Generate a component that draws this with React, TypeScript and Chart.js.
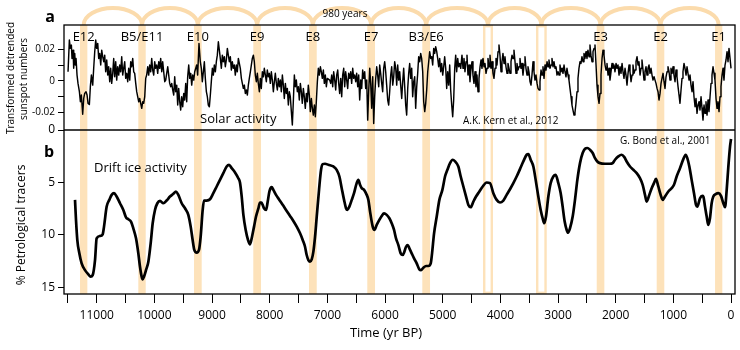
import { useEffect, useRef } from 'react';
import { Chart, registerables } from 'chart.js';

Chart.register(...registerables);

// ---------- Panel a: solar activity (transformed detrended sunspot numbers) ----------
const solarYears1 = [11498,11475,11458,11440,11429,11411,11400,11382,11371,11359,11342,11325,11301,11284,11267,11244,11226,11209,11186,11168,11151,11128,11111,11093,11070,11053,11035,11018,11001,10983,10966,10949,10931,10914,10897,10879,10862,10845,10827,10810,10793,10775,10758,10741,10723,10706,10689,10671,10654,10637,10619,10602,10585,10567,10550,10533,10515,10498,10481,10463,10446,10428,10411,10394,10376,10359,10342,10324,10307,10290,10272,10255,10238,10220,10203,10186,10168,10151,10134,10116,10099,10082,10064,10047,10030,10012,9995,9978,9960,9943,9925,9908,9891,9873,9856,9839,9821,9804,9787,9769,9752,9735,9717,9700,9683,9665,9648,9631,9613,9596,9579,9561,9544,9527,9509,9492,9475,9457,9440,9423,9405,9388,9370,9353,9336,9318,9301];
const solarValues1 = [0.0057,0.0259,0.0206,0.0227,0.0142,0.0195,0.0079,0.0174,0.0100,0.0142,0.0036,-0.0017,-0.0070,-0.0134,-0.0091,-0.0214,-0.0113,-0.0081,-0.0070,-0.0091,-0.0144,-0.0151,-0.0038,0.0036,-0.0028,0.0079,0.0185,0.0259,0.0206,0.0238,0.0142,0.0174,0.0100,0.0195,0.0153,0.0121,0.0163,0.0057,0.0132,0.0036,0.0089,-0.0006,0.0079,-0.0017,0.0047,0.0142,0.0025,0.0121,0.0004,0.0089,0.0036,0.0100,0.0057,0.0153,0.0036,0.0079,0.0121,0.0015,0.0047,-0.0006,0.0079,0.0004,0.0121,0.0089,0.0142,0.0057,0.0047,-0.0017,-0.0070,-0.0102,-0.0134,-0.0113,-0.0144,-0.0176,-0.0134,-0.0144,-0.0102,0.0015,0.0036,0.0089,0.0036,0.0100,0.0057,0.0142,0.0068,0.0036,0.0121,0.0079,0.0100,0.0047,0.0121,0.0079,0.0142,0.0057,0.0121,0.0057,-0.0006,0.0004,0.0047,0.0089,0.0036,-0.0017,-0.0038,-0.0017,-0.0059,-0.0091,0.0025,-0.0070,-0.0028,-0.0155,-0.0049,-0.0134,-0.0187,-0.0102,-0.0166,-0.0081,-0.0123,-0.0017,-0.0134,0.0025,0.0100,0.0015,0.0047,-0.0028,0.0036,0.0004,0.0057];

const solarYears2 = [9267,9250,9227,9204,9186,9169,9151,9134,9117,9099,9082,9065,9047,9030,9013,8995,8978,8961,8943,8926,8909,8891,8874,8857,8839,8822,8805,8787,8770,8753,8735,8718,8701,8683,8666,8649,8631,8614,8597,8579,8562,8544,8527,8510,8492,8475,8458,8440,8423,8406,8388,8371,8354,8336,8319,8302,8284,8267,8250,8232,8215,8198,8180,8163,8146,8128,8111,8094,8076,8059,8042,8024,8007,7990,7972,7955,7937,7920,7903,7885,7868,7851,7833,7816,7799,7781,7764,7747,7729,7712,7695,7677,7660,7643,7625,7608,7591,7573,7556,7539,7521,7504,7487,7469,7452,7435,7417,7400,7383,7365,7348,7331,7313,7296,7278,7261,7244,7226,7209,7192,7174,7157,7140,7122,7105,7088,7070,7053,7036,7018,7001];
const solarValues2 = [0.0100,0.0036,0.0238,0.0121,0.0079,-0.0006,0.0057,0.0121,0.0015,-0.0070,-0.0102,-0.0155,-0.0166,-0.0091,-0.0006,0.0079,0.0036,0.0100,0.0057,0.0121,0.0163,0.0248,0.0195,0.0142,0.0079,0.0163,0.0121,0.0153,0.0089,0.0132,0.0206,0.0163,0.0121,0.0153,0.0068,0.0121,0.0079,0.0100,0.0036,0.0100,0.0057,0.0142,0.0110,0.0079,0.0015,-0.0017,-0.0049,-0.0028,-0.0081,-0.0059,-0.0091,-0.0028,0.0015,0.0057,0.0100,0.0142,0.0163,0.0121,0.0036,-0.0006,0.0047,-0.0017,-0.0070,0.0015,-0.0049,0.0057,0.0025,0.0079,0.0036,-0.0006,0.0068,0.0025,0.0047,-0.0017,0.0057,0.0004,-0.0070,-0.0006,0.0047,-0.0017,-0.0059,0.0015,-0.0038,0.0004,-0.0070,0.0036,-0.0028,-0.0113,-0.0017,-0.0081,-0.0049,-0.0155,-0.0070,-0.0102,-0.0197,-0.0282,-0.0134,0.0036,-0.0038,0.0004,-0.0070,-0.0038,-0.0123,-0.0017,-0.0070,-0.0144,-0.0049,-0.0102,-0.0176,-0.0081,-0.0134,-0.0028,-0.0091,-0.0197,-0.0113,-0.0176,-0.0219,-0.0155,-0.0229,-0.0134,-0.0006,0.0079,0.0036,0.0089,0.0057,0.0015,0.0068,-0.0017,0.0036,-0.0038,0.0015];

const solarYears3 = [6960,6943,6925,6908,6891,6873,6856,6839,6821,6804,6787,6769,6752,6735,6717,6700,6683,6665,6648,6631,6613,6596,6579,6561,6544,6527,6509,6492,6474,6457,6440,6422,6405,6388,6370,6353,6336,6318,6301,6284,6266,6249,6232,6214,6197,6180,6162,6145,6128,6110,6093,6076,6058,6041,6024,6006,5989,5972,5954,5937,5920,5902,5885,5867,5850,5833,5815,5798,5781,5763,5746,5729,5711,5694,5677,5659,5642,5625,5607,5590,5573,5555,5538,5521,5503,5486,5469,5451,5434,5417,5399,5382,5365,5347,5330,5312,5295,5278,5260,5243,5226,5208,5191,5174,5156,5139,5122,5104,5087,5070,5052,5035,5018,5000,4983,4966,4948,4931,4914,4896,4879,4862,4844,4827,4810,4792,4775,4758,4740,4723,4706,4688];
const solarValues3 = [0.0004,-0.0017,0.0036,-0.0038,0.0057,0.0004,-0.0059,0.0036,0.0068,-0.0017,-0.0081,0.0015,-0.0102,0.0036,0.0079,-0.0038,0.0057,0.0004,-0.0049,0.0047,0.0015,0.0057,-0.0017,0.0079,0.0015,0.0036,-0.0006,0.0047,-0.0038,0.0036,-0.0123,0.0004,-0.0049,0.0068,0.0015,0.0057,-0.0049,0.0004,-0.0251,-0.0070,0.0079,-0.0017,-0.0176,0.0025,-0.0272,-0.0102,0.0015,0.0089,0.0036,-0.0038,0.0100,0.0047,-0.0017,-0.0070,0.0079,0.0121,0.0057,-0.0028,-0.0123,-0.0155,-0.0070,0.0036,0.0089,-0.0028,0.0025,0.0121,0.0079,-0.0028,0.0100,0.0004,0.0057,-0.0028,-0.0113,-0.0006,0.0079,-0.0038,-0.0155,-0.0219,-0.0049,0.0047,0.0110,0.0015,0.0079,-0.0102,-0.0006,0.0025,-0.0176,-0.0038,0.0047,0.0153,0.0121,0.0174,0.0142,0.0057,-0.0134,-0.0197,-0.0144,-0.0059,0.0057,0.0121,0.0185,0.0142,0.0153,0.0100,0.0206,0.0174,0.0217,0.0185,0.0142,0.0089,0.0142,0.0057,0.0110,0.0036,0.0089,0.0153,0.0079,-0.0049,0.0057,-0.0028,0.0100,-0.0059,-0.0155,-0.0229,-0.0123,0.0079,0.0163,0.0057,0.0142,0.0089,0.0110,0.0079];

const solarYears4 = [4666,4648,4631,4614,4596,4579,4562,4544,4527,4510,4492,4475,4458,4440,4423,4406,4388,4371,4353,4336,4319,4301,4284,4267,4249,4232,4215,4197,4180,4163,4145,4128,4111,4093,4076,4059,4041,4024,4007,3989,3972,3955,3937,3920,3903,3885,3868,3850,3833,3816,3798,3781,3764,3746,3729,3712,3694,3677,3660,3642,3625,3608,3590,3573,3556,3538,3521,3504,3486,3469,3452,3434,3417,3400,3382,3364,3347,3330,3313,3295,3278,3261,3243,3226,3209,3191,3174,3157,3139,3122,3105,3087,3070,3052,3035,3018,3000,2983,2966,2948,2931,2914,2896,2879,2862,2845,2827,2810,2793,2775,2758,2741,2723,2706,2689,2671,2654,2637,2619,2602,2585,2567,2550,2533,2515,2498,2481,2463,2446,2429,2411,2394,2376,2359];
const solarValues4 = [0.0163,0.0079,0.0142,0.0057,0.0121,0.0163,0.0036,0.0100,-0.0006,0.0079,0.0121,0.0036,-0.0017,0.0057,-0.0038,0.0036,-0.0070,0.0015,0.0089,0.0132,0.0079,0.0142,0.0089,0.0110,0.0047,0.0079,0.0142,0.0089,0.0163,0.0079,0.0121,0.0047,0.0015,0.0079,0.0142,0.0100,0.0185,0.0227,0.0163,0.0057,0.0121,0.0174,0.0110,0.0153,0.0089,0.0047,0.0110,0.0079,0.0047,0.0121,0.0163,0.0142,0.0195,0.0121,0.0047,0.0110,0.0068,0.0089,0.0142,0.0079,0.0110,0.0036,0.0100,0.0153,0.0079,0.0036,0.0089,0.0057,-0.0006,-0.0028,0.0036,0.0121,0.0057,0.0004,0.0036,-0.0017,-0.0049,-0.0059,-0.0006,0.0068,0.0036,0.0089,0.0015,0.0100,0.0068,0.0121,0.0089,0.0132,0.0079,0.0100,0.0142,0.0089,0.0121,0.0079,0.0089,0.0036,0.0057,0.0036,0.0100,0.0057,0.0079,0.0047,0.0100,0.0057,0.0025,0.0079,0.0036,0.0004,-0.0049,-0.0102,-0.0155,-0.0187,-0.0219,-0.0202,-0.0144,-0.0070,0.0015,0.0079,0.0121,0.0110,0.0153,0.0121,0.0174,0.0142,0.0185,0.0142,0.0195,0.0153,0.0227,0.0163,0.0121,0.0185,0.0206,0.0227];

const solarYears5 = [2341,2324,2307,2289,2272,2255,2237,2220,2203,2185,2168,2151,2133,2116,2099,2081,2064,2047,2029,2012,1994,1977,1960,1942,1925,1908,1890,1873,1856,1838,1821,1804,1786,1769,1752,1734,1717,1700,1682,1665,1648,1630,1613,1596,1578,1561,1544,1526,1509,1492,1474,1457,1440,1422,1405,1387,1370,1353,1335,1318,1301,1283,1266,1249,1231,1214,1197,1179,1162,1145,1127,1110,1093,1075,1058,1041,1023,1006,989,971,954,937,919,902,885,867,850,833,815,798,780,763,746,728,711,694,676,659,642,624,607,590,572,555,538,520,503,486,468,451,434,416,399,382,364,347,330,312,295,278,260,243,226,208,191,174,156,139,122,104,87,69,52,35,17,0];
const solarValues5 = [0.0100,-0.0028,-0.0102,-0.0144,-0.0081,0.0036,0.0142,0.0195,0.0163,0.0100,0.0068,0.0110,0.0036,0.0079,0.0004,0.0057,0.0110,0.0079,0.0100,0.0057,0.0110,0.0079,0.0100,0.0036,0.0089,0.0047,0.0110,0.0057,0.0015,0.0079,0.0036,-0.0028,0.0047,0.0100,0.0057,-0.0006,0.0036,0.0100,0.0047,0.0068,0.0121,0.0153,0.0100,0.0121,0.0036,0.0079,0.0132,0.0068,0.0004,0.0057,0.0089,0.0036,0.0079,0.0100,0.0047,0.0079,0.0036,0.0004,0.0025,0.0004,-0.0017,-0.0049,-0.0070,-0.0123,-0.0081,-0.0017,0.0015,0.0047,-0.0006,-0.0049,0.0025,0.0057,0.0089,0.0057,0.0004,0.0079,0.0047,0.0089,0.0036,-0.0006,0.0068,0.0025,-0.0038,-0.0091,-0.0144,-0.0059,0.0015,0.0057,0.0110,0.0079,0.0036,0.0089,0.0047,0.0004,0.0036,-0.0028,-0.0070,-0.0006,-0.0102,-0.0166,-0.0113,-0.0208,-0.0155,-0.0134,-0.0187,-0.0102,-0.0176,-0.0251,-0.0155,-0.0208,-0.0134,-0.0219,-0.0123,-0.0197,-0.0102,-0.0017,0.0036,0.0089,0.0047,0.0004,-0.0113,-0.0176,-0.0134,-0.0197,-0.0102,-0.0038,0.0036,0.0079,0.0004,0.0100,0.0132,0.0185,0.0121,0.0206,0.0142,0.0079];

// ---------- Panel b: drift ice activity (% petrological tracers) ----------
const driftYears1 = [11377,11360,11337,11302,11262,11204,11146,11106,11071,11030,11002,10944,10897,10874,10828,10782,10741,10701,10655,10597,10539,10493,10452,10406,10366,10319,10279,10250,10221,10204,10181,10146,10105,10065,10030,9990,9949,9903,9845,9788,9730,9672,9626,9585,9527,9470,9412,9371,9337,9308,9267,9227,9198,9163,9140,9094,9036,8978,8920,8863,8805,8747,8706,8660,8602,8545,8516];
const driftValues1 = [6.67,8.58,10.5,11.77,12.73,13.37,13.78,14.0,13.85,12.41,10.34,10.11,9.95,9.22,7.31,6.67,6.19,6.03,6.35,6.99,7.63,8.33,8.52,8.74,9.38,10.34,11.77,13.05,14.0,14.26,14.0,13.37,12.57,10.82,8.9,7.63,6.99,6.76,6.99,6.73,6.35,6.09,5.87,6.19,6.99,7.47,8.1,9.22,10.5,11.45,11.71,11.45,10.18,7.63,6.73,6.73,6.61,6.03,5.39,4.76,4.12,3.48,3.32,3.64,4.05,4.6,5.0];
const driftYears2 = [8486,8457,8417,8376,8342,8307,8272,8238,8197,8168,8145,8122,8099,8064,8035,8006,7966,7937,7891,7833,7763,7706,7648,7590,7532,7474,7428,7388,7359,7330,7301,7272,7243,7214,7185,7145,7110,7081,7041,6983,6896,6839,6792,6752,6711,6677,6654,6619,6578,6538,6492,6463,6434,6405,6364,6318,6289,6260,6214,6185,6145,6099,6058,6018,5971,5925,5885,5844,5810,5769,5729,5694,5665,5636,5607,5578,5538,5497,5451,5405,5376,5335,5289,5249,5208,5185,5150,5104,5058,5006,4960,4919,4873,4827,4786,4729,4688,4642,4595,4555,4515,4468,4422,4364,4306,4237];
const driftValues2 = [6.35,8.1,9.54,10.5,10.91,10.18,9.22,8.26,7.47,6.92,6.92,7.15,7.47,7.63,6.83,5.87,5.46,5.71,6.19,6.67,7.24,7.72,8.2,8.68,9.22,9.86,10.5,11.14,11.93,12.41,12.57,12.35,11.61,10.18,8.26,5.71,3.8,3.26,3.22,3.32,3.48,3.8,4.44,5.55,6.67,7.47,7.63,7.31,6.67,6.03,5.07,4.76,5.23,5.55,5.71,6.19,6.67,7.79,9.22,9.54,9.06,8.58,8.2,7.95,8.1,8.42,8.9,9.54,10.34,10.98,11.77,11.93,11.61,11.14,10.98,11.29,11.77,12.25,12.73,13.3,13.37,13.14,12.98,12.98,12.73,11.77,9.86,8.26,6.67,5.71,4.44,3.8,3.16,2.84,3.0,3.48,4.44,5.39,6.35,7.15,7.37,6.83,6.35,5.87,5.39,5.01];
const driftYears3 = [4180,4122,4064,4007,3949,3891,3833,3775,3718,3660,3602,3544,3515,3475,3428,3388,3342,3301,3267,3238,3209,3168,3128,3082,3041,2995,2954,2920,2885,2850,2827,2793,2746,2706,2665,2619,2573,2532,2492,2446,2399,2359,2319,2272,2186,2099,2053,2012,1954,1897,1850,1810,1752,1694,1636,1579,1532,1492,1463,1417,1376,1336,1301,1261,1220,1185,1145,1087,1029,989,943,885,827,787,758,723,683,642,607,584,538,498,480,451,422,394,365,336,307,266,220,174,133,104,75,46,17,0];
const driftValues3 = [5.07,6.03,6.67,6.92,6.73,6.19,5.65,5.07,4.44,3.73,3.0,2.36,2.3,2.84,3.48,4.76,6.35,7.63,8.42,8.9,8.26,6.35,5.07,4.44,4.28,5.07,6.03,7.31,8.74,9.54,9.8,9.38,8.26,6.67,4.76,3.16,2.2,1.79,1.72,1.88,2.2,2.68,3.0,3.16,3.22,3.22,3.16,2.84,2.52,2.36,2.59,3.0,3.48,3.8,4.12,4.6,5.23,6.19,6.83,6.19,5.55,5.07,4.66,5.39,6.19,6.67,6.35,5.87,5.55,5.23,4.44,3.64,2.78,2.36,2.68,3.48,4.76,6.03,7.15,7.31,6.51,6.29,6.35,7.31,8.26,9.06,8.42,6.99,6.35,6.13,6.03,6.29,6.99,7.37,5.71,3.48,1.57,0.86];

// ---------- Events (shaded bands, yr BP) ----------
const bandFrom = [11290, 10279, 9313, 8285, 7319, 6308, 5354, 4301, 3382, 2329, 1289, 277];
const bandTo = [11163, 10151, 9180, 8151, 7185, 6174, 5220, 4128, 3196, 2197, 1157, 151];
const bandLabels = ['E12', 'B5/E11', 'E10', 'E9', 'E8', 'E7', 'B3/E6', '', '', 'E3', 'E2', 'E1'];
const bandHollow = [false, false, false, false, false, false, false, true, true, false, false, false];

// ---------- Axes ----------
const timeTicks = [11500, 11000, 10500, 10000, 9500, 9000, 8500, 8000, 7500, 7000, 6500, 6000, 5500, 5000, 4500, 4000, 3500, 3000, 2500, 2000, 1500, 1000, 500, 0];
const solarTicks = [-0.02, -0.01, 0, 0.01, 0.02];
const solarTickLabels = ['-0.02', '', '0', '', '0.02'];
const driftTicks = [0, 5, 10, 15];

const FONT = '"Open Sans", "Noto Sans", sans-serif';
const BAND_FILL = 'rgb(253,226,186)';
const ARC_COLOR = 'rgb(251,219,172)';

function zip(xs: number[], ys: number[]) {
  const n = Math.min(xs.length, ys.length);
  const out: { x: number; y: number }[] = [];
  for (let i = 0; i < n; i++) out.push({ x: xs[i], y: ys[i] });
  return out;
}

const decorPlugin = {
  id: 'decor',
  beforeDatasetsDraw(chart: any) {
    const { ctx, chartArea, scales } = chart;
    const xs = scales.x;
    const top = chartArea.top;
    const h = chartArea.bottom - chartArea.top;
    ctx.save();
    const centers: number[] = [];
    for (let i = 0; i < bandFrom.length; i++) {
      const a = xs.getPixelForValue(bandFrom[i]);
      const b = xs.getPixelForValue(bandTo[i]);
      const l = Math.min(a, b);
      const w = Math.abs(b - a);
      centers.push(l + w / 2);
      if (bandHollow[i]) {
        ctx.strokeStyle = BAND_FILL;
        ctx.lineWidth = 2.4;
        ctx.strokeRect(l + 1.2, top + 1.2, w - 2.4, h - 2.4);
      } else {
        ctx.fillStyle = BAND_FILL;
        ctx.fillRect(l, top, w, h);
      }
    }
    ctx.strokeStyle = ARC_COLOR;
    ctx.lineWidth = 4;
    for (let i = 0; i < centers.length - 1; i++) {
      const c1 = centers[i];
      const c2 = centers[i + 1];
      ctx.beginPath();
      ctx.ellipse((c1 + c2) / 2, top, (c2 - c1) / 2, 17, 0, Math.PI, 2 * Math.PI);
      ctx.stroke();
    }
    ctx.restore();
  },
  afterDraw(chart: any) {
    const { ctx, chartArea, scales } = chart;
    const xs = scales.x;
    ctx.save();
    // frame and panel divider
    ctx.strokeStyle = '#000';
    ctx.lineWidth = 1.3;
    ctx.strokeRect(chartArea.left, chartArea.top, chartArea.right - chartArea.left, chartArea.bottom - chartArea.top);
    ctx.beginPath();
    ctx.moveTo(chartArea.left, scales.yb.top);
    ctx.lineTo(chartArea.right, scales.yb.top);
    ctx.stroke();

    ctx.fillStyle = '#000';
    ctx.textBaseline = 'middle';
    // event labels
    ctx.textAlign = 'center';
    ctx.font = `13px ${FONT}`;
    for (let i = 0; i < bandFrom.length; i++) {
      if (!bandLabels[i]) continue;
      const c = (xs.getPixelForValue(bandFrom[i]) + xs.getPixelForValue(bandTo[i])) / 2;
      ctx.fillText(bandLabels[i], c, chartArea.top + 12);
    }
    ctx.font = `10px ${FONT}`;
    ctx.fillText('980 years', 345, 14);

    // panel letters
    ctx.font = `bold 16px ${FONT}`;
    ctx.fillText('a', 50, 17);
    ctx.fillText('b', 49, 152);

    // annotations
    ctx.textAlign = 'left';
    ctx.font = `13px ${FONT}`;
    ctx.fillText('Solar activity', 200, 119);
    ctx.fillText('Drift ice activity', 94, 168);
    ctx.font = `10px ${FONT}`;
    ctx.fillText('A.K. Kern et al., 2012', 463, 121);
    ctx.fillText('G. Bond et al., 2001', 620, 141);

    // axis titles
    ctx.textAlign = 'center';
    ctx.font = `13px ${FONT}`;
    ctx.fillText('Time (yr BP)', 386, 333);

    ctx.save();
    ctx.translate(11, 78);
    ctx.rotate(-Math.PI / 2);
    ctx.font = `10px ${FONT}`;
    ctx.fillText('Transformed detrended', 0, 0);
    ctx.restore();
    ctx.save();
    ctx.translate(24, 79);
    ctx.rotate(-Math.PI / 2);
    ctx.font = `10px ${FONT}`;
    ctx.fillText('sunspot numbers', 0, 0);
    ctx.restore();
    ctx.save();
    ctx.translate(22, 225);
    ctx.rotate(-Math.PI / 2);
    ctx.font = `12px ${FONT}`;
    ctx.fillText('% Petrological tracers', 0, 0);
    ctx.restore();

    ctx.restore();
  },
};

export default function App() {
  const ref = useRef<HTMLCanvasElement | null>(null);

  useEffect(() => {
    document.body.style.margin = '0';
    const canvas = ref.current;
    if (!canvas) return;
    Chart.defaults.font.family = FONT;
    Chart.defaults.color = '#000';

    const solarData = [
      ...zip(solarYears1, solarValues1),
      ...zip(solarYears2, solarValues2),
      ...zip(solarYears3, solarValues3),
      ...zip(solarYears4, solarValues4),
      ...zip(solarYears5, solarValues5),
    ];
    const driftData = [
      ...zip(driftYears1, driftValues1),
      ...zip(driftYears2, driftValues2),
      ...zip(driftYears3, driftValues3),
    ];

    const chart = new Chart(canvas, {
      type: 'line',
      data: {
        datasets: [
          {
            label: 'Solar activity',
            data: solarData,
            xAxisID: 'x',
            yAxisID: 'ya',
            borderColor: '#000',
            borderWidth: 1.45,
            borderJoinStyle: 'round',
            pointRadius: 0,
            tension: 0,
            fill: false,
          },
          {
            label: 'Drift ice activity',
            data: driftData,
            xAxisID: 'x',
            yAxisID: 'yb',
            borderColor: '#000',
            borderWidth: 2.7,
            pointRadius: 0,
            cubicInterpolationMode: 'monotone',
            fill: false,
          },
        ],
      },
      options: {
        animation: false,
        responsive: false,
        events: [],
        layout: { padding: { top: 25, right: 5, left: 0, bottom: 0 } },
        plugins: { legend: { display: false }, tooltip: { enabled: false } },
        scales: {
          x: {
            type: 'linear',
            reverse: true,
            min: -69,
            max: 11568,
            afterBuildTicks: (s: any) => {
              s.ticks = timeTicks.map((v) => ({ value: v }));
            },
            afterFit: (s: any) => {
              s.height = 56;
            },
            ticks: {
              autoSkip: false,
              maxRotation: 0,
              padding: 5,
              color: '#000',
              font: { size: 12, family: FONT },
              callback: (v: any) => (Number(v) % 1000 === 0 ? String(v) : ''),
            },
            grid: { drawOnChartArea: false, drawTicks: true, tickLength: 9, color: '#000', lineWidth: 1 },
            border: { display: false },
          },
          yb: {
            type: 'linear',
            position: 'left',
            stack: 'panels',
            stackWeight: 164,
            reverse: true,
            min: 0,
            max: 15.65,
            afterBuildTicks: (s: any) => {
              s.ticks = driftTicks.map((v) => ({ value: v }));
            },
            afterFit: (s: any) => {
              s.width = 64;
            },
            ticks: { padding: 3, color: '#000', font: { size: 12, family: FONT }, callback: (v: any) => String(v) },
            grid: { drawOnChartArea: false, drawTicks: true, tickLength: 6, color: '#000', lineWidth: 1 },
            border: { display: false },
          },
          ya: {
            type: 'linear',
            position: 'left',
            stack: 'panels',
            stackWeight: 105,
            min: -0.0314,
            max: 0.0355,
            afterBuildTicks: (s: any) => {
              s.ticks = solarTicks.map((v) => ({ value: v }));
            },
            afterFit: (s: any) => {
              s.width = 64;
            },
            ticks: {
              padding: 3,
              color: '#000',
              font: { size: 10, family: FONT },
              callback: (_v: any, i: number) => solarTickLabels[i],
            },
            grid: { drawOnChartArea: false, drawTicks: true, tickLength: 6, color: '#000', lineWidth: 1 },
            border: { display: false },
          },
        },
      } as any,
      plugins: [decorPlugin],
    });

    return () => chart.destroy();
  }, []);

  return (
    <div style={{ position: 'absolute', left: 0, top: 0, width: 740, height: 350, background: '#fff' }}>
      <canvas ref={ref} width={740} height={350} style={{ width: 740, height: 350, display: 'block' }} />
    </div>
  );
}
